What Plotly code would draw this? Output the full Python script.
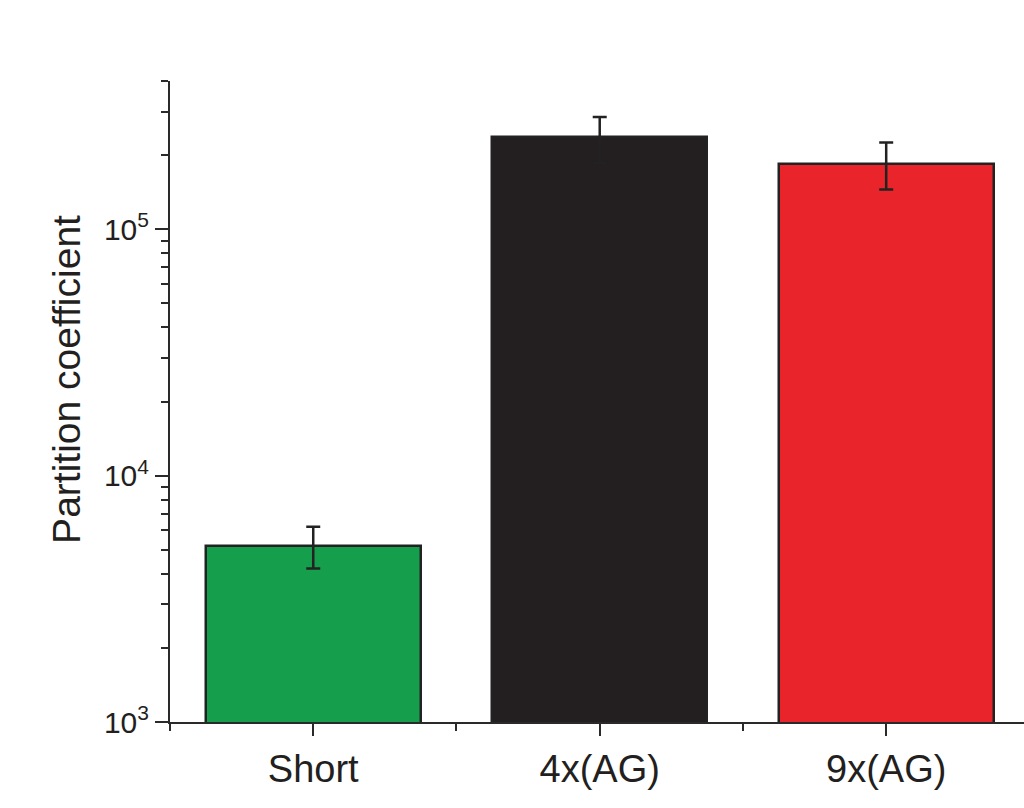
import plotly.graph_objects as go

# Partition coefficients for the three constructs
categories = ["Short", "4x(AG)", "9x(AG)"]
partition = [5200, 236000, 185000]
partition_err = [1000, 50000, 40000]
bar_colors = ["#159E4C", "#231F20", "#E9242A"]

ytick_vals = [1e3, 1e4, 1e5]
ytick_text = ["10<sup>3</sup>", "10<sup>4</sup>", "10<sup>5</sup>"]
yminor_vals = [m * 10 ** e for e in (3, 4, 5) for m in range(2, 10) if m * 10 ** e <= 4e5]

FONT = "Liberation Sans, Arial, Helvetica, sans-serif"
AX = "#2a2a2a"

x_pos = list(range(len(categories)))

fig = go.Figure(
    go.Bar(
        x=x_pos,
        y=partition,
        width=0.75,
        marker=dict(color=bar_colors, line=dict(color="#222222", width=2.5)),
        error_y=dict(
            type="data",
            array=partition_err,
            symmetric=True,
            color="#222222",
            thickness=2.5,
            width=7,
        ),
    )
)

fig.update_layout(
    width=1024,
    height=808,
    margin=dict(l=170, r=0, t=81, b=86),
    paper_bgcolor="white",
    plot_bgcolor="white",
    showlegend=False,
    font=dict(family=FONT, color="#231F20"),
    bargap=0,
)

fig.update_xaxes(
    range=[-0.5, 2.481],
    tickmode="array",
    tickvals=x_pos,
    ticktext=categories,
    ticks="outside",
    ticklen=12,
    tickwidth=2,
    tickcolor=AX,
    tickfont=dict(size=38, family=FONT, color="#231F20"),
    showline=True,
    linecolor=AX,
    linewidth=2,
    showgrid=False,
    zeroline=False,
    minor=dict(ticks="outside", ticklen=7, tickwidth=2, tickcolor=AX, tick0=-0.5, dtick=1, showgrid=False),
)

fig.update_yaxes(
    type="log",
    range=[3, 5.60206],
    tickmode="array",
    tickvals=ytick_vals,
    ticktext=ytick_text,
    ticks="outside",
    ticklen=13,
    tickwidth=2,
    tickcolor=AX,
    tickfont=dict(size=30, family=FONT, color="#231F20"),
    showline=True,
    linecolor=AX,
    linewidth=2,
    showgrid=False,
    zeroline=False,
    minor=dict(ticks="outside", ticklen=7, tickwidth=2, tickcolor=AX, tickvals=yminor_vals, showgrid=False),
)

fig.add_annotation(
    text="Partition coefficient",
    xref="paper",
    yref="paper",
    x=-0.122,
    y=0.535,
    xanchor="center",
    yanchor="middle",
    textangle=-90,
    showarrow=False,
    font=dict(size=39, family=FONT, color="#231F20"),
)

fig.write_html("out.html")
